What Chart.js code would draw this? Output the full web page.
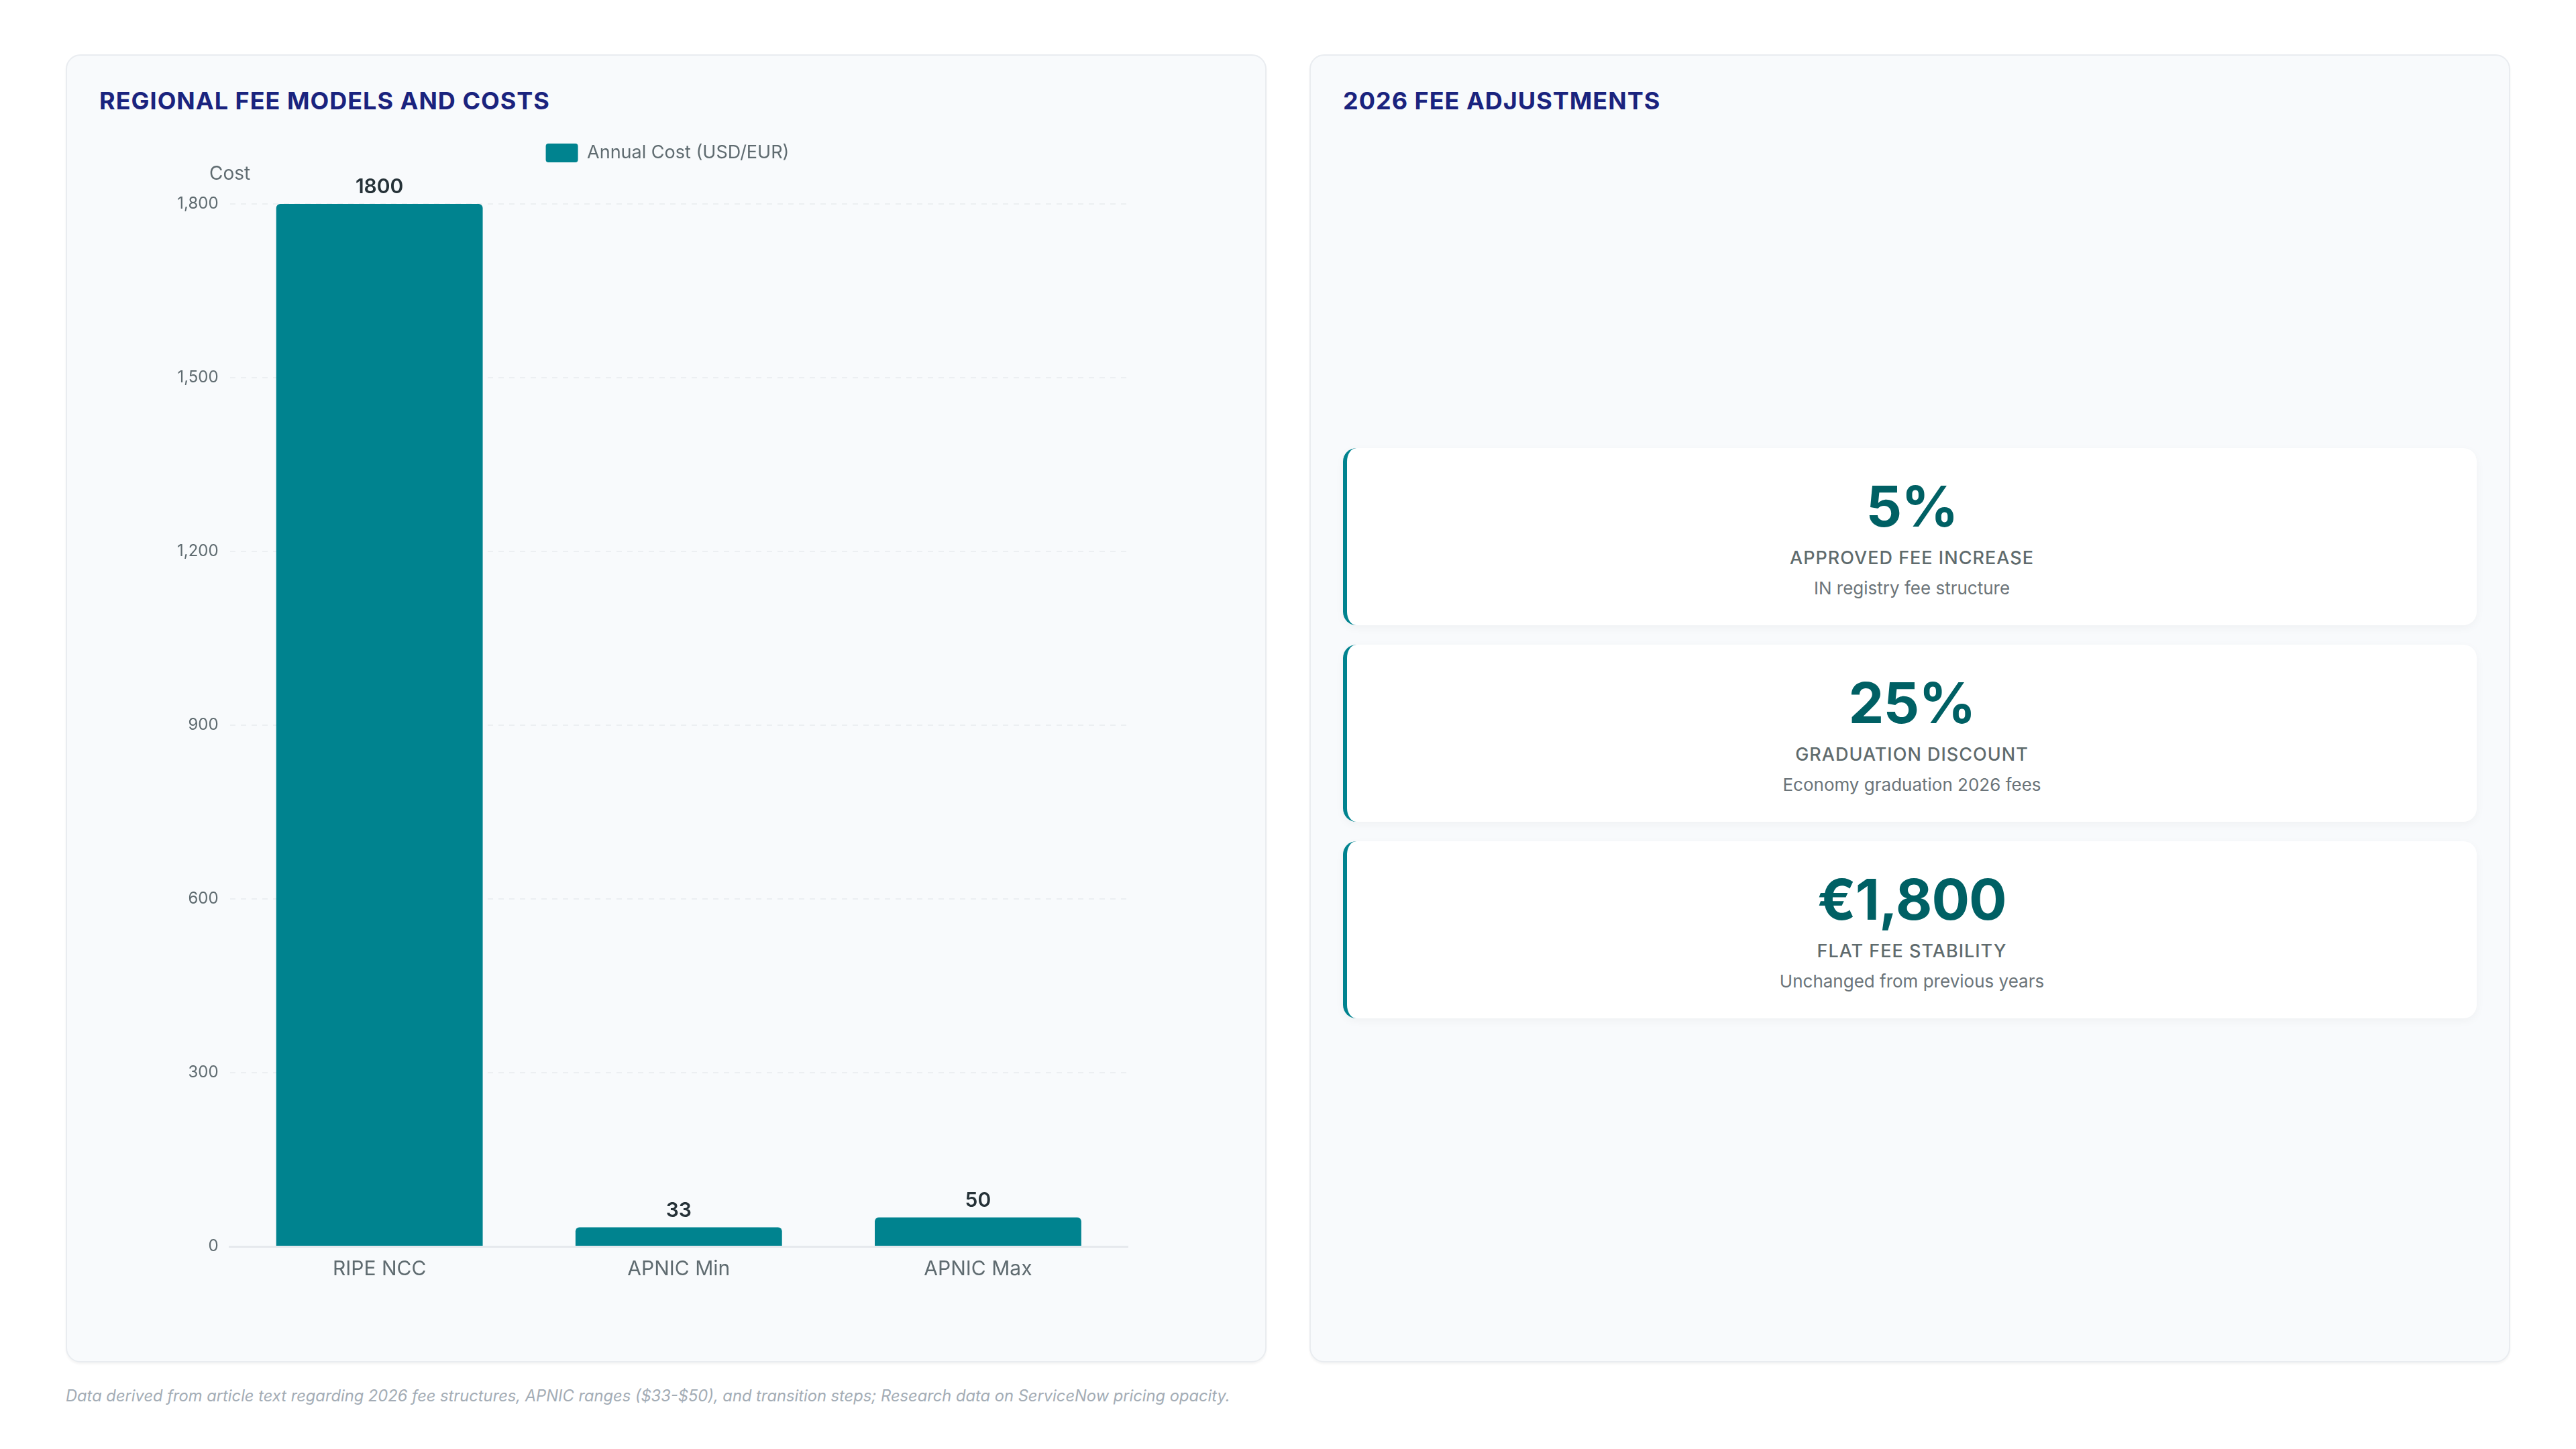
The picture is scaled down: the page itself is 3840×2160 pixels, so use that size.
<!DOCTYPE html>
<html lang="en">
<head>
  <meta charset="UTF-8">
  <title>Regional Fee Models and Costs</title>
  <style>
    html, body { margin: 0; padding: 0; background: #ffffff; }
    body { width: 3840px; height: 2160px; position: relative; font-family: Inter, "Noto Sans", sans-serif; overflow: hidden; }
    .panel {
      position: absolute; top: 81px; width: 1790px; height: 1950px; box-sizing: border-box;
      background: #f8fafc; border: 2px solid #e9ecf0; border-radius: 22px;
      box-shadow: 0 3px 3px rgba(0,0,0,0.04);
      padding: 46px 48px 48px;
    }
    #left { left: 98px; }
    #right { left: 1952px; }
    .panel h2 {
      margin: 0; font-size: 36px; line-height: 43px; font-weight: 700;
      color: #1a237e; letter-spacing: 1px;
    }
    .body { margin-top: 32px; height: 1778px; position: relative; }
    .cards { display: flex; flex-direction: column; justify-content: center; gap: 29px; }
    .card {
      height: 264px; box-sizing: border-box; background: #ffffff;
      border-left: 6px solid #00838f; border-radius: 20px;
      box-shadow: 0 4px 14px rgba(0,0,0,0.04);
      display: flex; flex-direction: column; justify-content: center; align-items: center;
    }
    .card .num { font-size: 84px; line-height: 97px; font-weight: 700; color: #006064; letter-spacing: -1px; }
    .card .lbl { font-size: 27px; line-height: 34px; margin-top: 12px; font-weight: 500; color: #5f6b6d; letter-spacing: 1px; }
    .card .sub { font-size: 26px; line-height: 34px; margin-top: 11px; color: #6b7479; }
    .note {
      position: absolute; left: 98px; top: 2066px; font-size: 23.7px; font-style: italic; color: #a3acb5;
    }
  </style>
</head>
<body>
  <div class="panel" id="left">
    <h2>REGIONAL FEE MODELS AND COSTS</h2>
    <div class="body"><canvas id="feeChart"></canvas></div>
  </div>
  <div class="panel" id="right">
    <h2>2026 FEE ADJUSTMENTS</h2>
    <div class="body cards">
      <div class="card"><div class="num">5%</div><div class="lbl">APPROVED FEE INCREASE</div><div class="sub">IN registry fee structure</div></div>
      <div class="card"><div class="num">25%</div><div class="lbl">GRADUATION DISCOUNT</div><div class="sub">Economy graduation 2026 fees</div></div>
      <div class="card"><div class="num">€1,800</div><div class="lbl">FLAT FEE STABILITY</div><div class="sub">Unchanged from previous years</div></div>
    </div>
  </div>
  <div class="note">Data derived from article text regarding 2026 fee structures, APNIC ranges ($33-$50), and transition steps; Research data on ServiceNow pricing opacity.</div>

  <script src="https://cdn.jsdelivr.net/npm/chart.js"></script>
  <script>
    const categories = ["RIPE NCC", "APNIC Min", "APNIC Max"];
    const annualCost = [1800, 33, 50];
    const seriesName = "Annual Cost (USD/EUR)";
    const yTicks = [0, 300, 600, 900, 1200, 1500, 1800];
    const yTitle = "Cost";

    const teal = "#00838f";
    const gray = "#5f6b70";

    Chart.defaults.font.family = "Inter, 'Noto Sans', sans-serif";

    // extra room under the legend, and nudge it right
    const legendGap = {
      id: 'legendGap',
      beforeInit(chart) {
        const fit = chart.legend.fit;
        chart.legend.fit = function () {
          fit.bind(chart.legend)();
          this.height += 52;
        };
      },
      afterLayout(chart) {
        chart.legend.left += 31;
        chart.legend.right += 31;
      }
    };

    // value above each bar + axis caption on top of y axis
    const barLabels = {
      id: 'barLabels',
      afterDatasetsDraw(chart) {
        const ctx = chart.ctx;
        ctx.save();
        ctx.font = "600 30px Inter, sans-serif";
        ctx.fillStyle = "#263238";
        ctx.textAlign = "center";
        ctx.textBaseline = "alphabetic";
        chart.getDatasetMeta(0).data.forEach((bar, i) => {
          ctx.fillText(String(annualCost[i]), bar.x, bar.y - 16);
        });
        ctx.font = "28px Inter, sans-serif";
        ctx.fillStyle = gray;
        ctx.fillText(yTitle, chart.chartArea.left, chart.chartArea.top - 36);
        ctx.restore();
      }
    };

    new Chart(document.getElementById('feeChart').getContext('2d'), {
      type: 'bar',
      data: {
        labels: categories,
        datasets: [{
          label: seriesName,
          data: annualCost,
          backgroundColor: teal,
          borderRadius: 6,
          borderSkipped: 'bottom',
          barPercentage: 0.69,
          categoryPercentage: 1
        }]
      },
      options: {
        responsive: true,
        maintainAspectRatio: false,
        animation: false,
        layout: { padding: { left: 99, right: 157, top: 0, bottom: 64 } },
        plugins: {
          legend: {
            labels: {
              boxWidth: 48, boxHeight: 28, useBorderRadius: true, borderRadius: 4,
              color: gray, font: { size: 27 }, padding: 10
            }
          },
          tooltip: { enabled: false }
        },
        scales: {
          x: {
            grid: { display: false },
            border: { display: true, color: "#e6e9ed", width: 3 },
            ticks: { color: gray, font: { size: 30 }, padding: 8 }
          },
          y: {
            min: yTicks[0],
            max: yTicks[yTicks.length - 1],
            grid: { color: "#eceff2", lineWidth: 2, drawTicks: false },
            border: { display: false, dash: [8, 8] },
            ticks: { color: gray, font: { size: 24 }, padding: 17, stepSize: yTicks[1] - yTicks[0] }
          }
        }
      },
      plugins: [legendGap, barLabels]
    });
  </script>
</body>
</html>
